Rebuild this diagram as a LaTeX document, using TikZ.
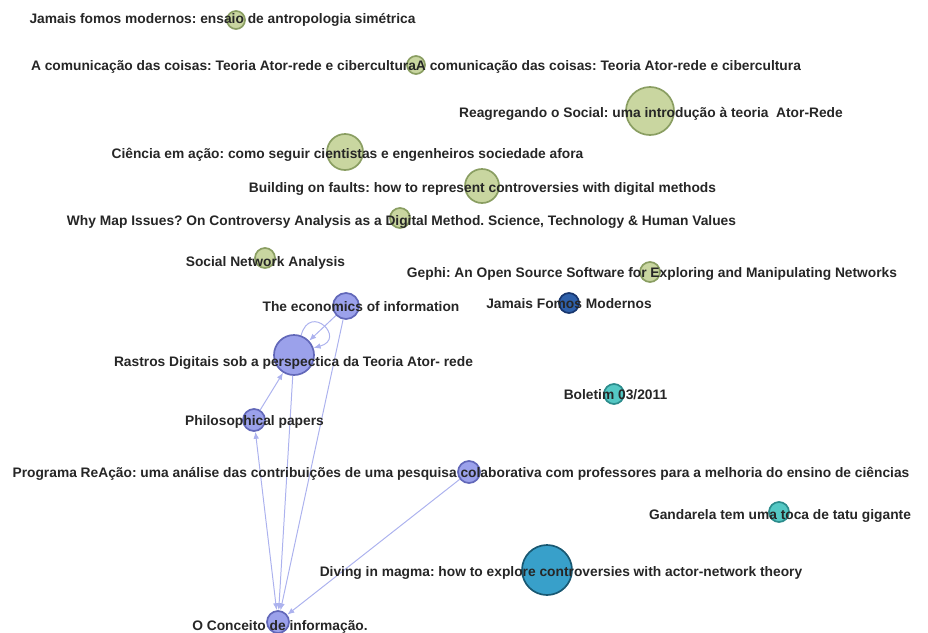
\documentclass[tikz,border=0pt]{standalone}
\usepackage{fontspec}
\setmainfont{Liberation Sans}
\usepackage{xcolor}
\usepackage{tikz}
\usetikzlibrary{arrows.meta, backgrounds}
\frenchspacing

\definecolor{litfill}{RGB}{201,214,160}
\definecolor{litdraw}{RGB}{138,158,98}
\definecolor{infofill}{RGB}{155,161,235}
\definecolor{infodraw}{RGB}{98,104,185}
\definecolor{fomosfill}{RGB}{46,96,170}
\definecolor{fomosdraw}{RGB}{24,54,110}
\definecolor{tealfill}{RGB}{84,200,196}
\definecolor{tealdraw}{RGB}{44,140,140}
\definecolor{magmafill}{RGB}{56,160,202}
\definecolor{magmadraw}{RGB}{24,88,114}
\definecolor{edgecol}{RGB}{172,178,238}

\begin{document}
\begin{tikzpicture}[
    x=0.025cm, y=-0.025cm,
    dot/.style={circle, inner sep=0pt, line width=1.2pt, minimum size=#1*0.05cm},
    litnode/.style={dot=#1, fill=litfill, draw=litdraw},
    infonode/.style={dot=#1, fill=infofill, draw=infodraw},
    fomosnode/.style={dot=#1, fill=fomosfill, draw=fomosdraw},
    tealnode/.style={dot=#1, fill=tealfill, draw=tealdraw},
    magmanode/.style={dot=#1, fill=magmafill, draw=magmadraw},
    lbl/.style={font=\fontsize{9.8}{11}\selectfont\bfseries, text=black!85, inner sep=0pt},
    edge/.style={-{Latex[length=5pt, width=4pt]}, draw=edgecol, line width=0.7pt},
]
\useasboundingbox (0,0) rectangle (928,632);

% === Literature nodes (green) ===
\node[litnode=9]  (jamais)   at (236,20)  {};
\node[litnode=9]  (comunic)  at (416,65)  {};
\node[litnode=24] (reagreg)  at (650,111) {};
\node[litnode=18] (ciencia)  at (345,152) {};
\node[litnode=17] (faults)   at (482,186) {};
\node[litnode=10] (mapissue) at (400,218) {};
\node[litnode=10] (sna)      at (265,258) {};
\node[litnode=10] (gephi)    at (650,272) {};

% === Information cluster (periwinkle) ===
\node[infonode=13] (econ)    at (346,306) {};
\node[infonode=20] (rastros) at (294,355) {};
\node[infonode=11] (philo)   at (254,420) {};
\node[infonode=11] (reacao)  at (469,472) {};
\node[infonode=11] (conceito) at (278,622) {};

% === Other nodes ===
\node[fomosnode=10] (fomos)     at (569,303) {};
\node[tealnode=10]  (boletim)   at (614,394) {};
\node[tealnode=10]  (gandarela) at (779,512) {};
\node[magmanode=25] (magma)     at (547,570) {};

% === Edges ===
\begin{scope}[on background layer]
\draw[edge] (philo) -- (rastros);
\draw[edge] (econ) -- (rastros);
\draw[edge] (rastros.70) to[out=75, in=15, looseness=5] (rastros.20);
\draw[edge] (rastros) -- (conceito);
\draw[edge] (econ) -- (conceito);
\draw[edge, {Latex[length=5pt, width=4pt]}-{Latex[length=5pt, width=4pt]}] (philo) -- (conceito);
\draw[edge] (reacao) -- (conceito);
\end{scope}

% === Labels ===
\node[lbl] (ljamais)   at (222.5,20) {Jamais fomos modernos: ensaio de antropologia simétrica};
\node[lbl] (lcomunic)  at (416,67)   {A comunicação das coisas: Teoria Ator-rede e ciberculturaA comunicação das coisas: Teoria Ator-rede e cibercultura};
\node[lbl] (lreagreg)  at (651,114)  {Reagregando o Social: uma introdução à teoria \ Ator-Rede};
\node[lbl] (lciencia)  at (347.5,155) {Ciência em ação: como seguir cientistas e engenheiros sociedade afora};
\node[lbl] (lfaults)   at (482.5,189) {Building on faults: how to represent controversies with digital methods};
\node[lbl] (lmapissue) at (401.5,222) {Why Map Issues? On Controversy Analysis as a Digital Method. Science, Technology \& Human Values};
\node[lbl] (lsna)      at (265.5,263) {Social Network Analysis};
\node[lbl] (lgephi)    at (652,274)  {Gephi: An Open Source Software for Exploring and Manipulating Networks};
\node[lbl] (lfomos)    at (569,304)  {Jamais Fomos Modernos};
\node[lbl] (lecon)     at (361,307)  {The economics of information};
\node[lbl] (lrastros)  at (293.5,363) {Rastros Digitais sob a perspectica da Teoria Ator- rede};
\node[lbl] (lphilo)    at (254.5,422) {Philosophical papers};
\node[lbl] (lreacao)   at (461,474)  {Programa ReAção: uma análise das contribuições de uma pesquisa colaborativa com professores para a melhoria do ensino de ciências};
\node[lbl] (lboletim)  at (615.5,395) {Boletim 03/2011};
\node[lbl] (lgandarela) at (780,516) {Gandarela tem uma toca de tatu gigante};
\node[lbl] (lmagma)    at (561,573)  {Diving in magma: how to explore controversies with actor-network theory};
\node[lbl] (lconceito) at (280,627)  {O Conceito de informação.};

\end{tikzpicture}
\end{document}
